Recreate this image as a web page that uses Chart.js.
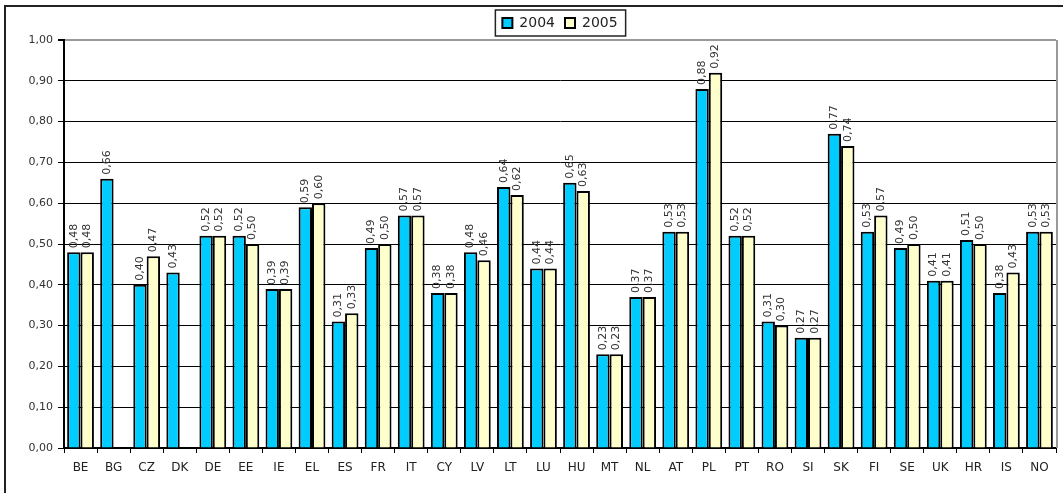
<!DOCTYPE html>
<html>
<head>
<meta charset="utf-8">
<title>2004 / 2005</title>
<script src="https://cdn.jsdelivr.net/npm/chart.js@4.4.1/dist/chart.umd.min.js"></script>
<style>
    html, body { margin: 0; padding: 0; background: #fff; }
    #wrap { width: 1063px; height: 493px; }
</style>
</head>
<body>
<div id="wrap"><canvas id="chart" width="1063" height="493"></canvas></div>
<script>
const countries = ['BE', 'BG', 'CZ', 'DK', 'DE', 'EE', 'IE', 'EL', 'ES', 'FR', 'IT', 'CY', 'LV', 'LT', 'LU', 'HU',
    'MT', 'NL', 'AT', 'PL', 'PT', 'RO', 'SI', 'SK', 'FI', 'SE', 'UK', 'HR', 'IS', 'NO'];
const values2004 = [0.48, 0.66, 0.40, 0.43, 0.52, 0.52, 0.39, 0.59, 0.31, 0.49, 0.57, 0.38, 0.48, 0.64, 0.44, 0.65,
    0.23, 0.37, 0.53, 0.88, 0.52, 0.31, 0.27, 0.77, 0.53, 0.49, 0.41, 0.51, 0.38, 0.53];
const values2005 = [0.48, null, 0.47, null, 0.52, 0.50, 0.39, 0.60, 0.33, 0.50, 0.57, 0.38, 0.46, 0.62, 0.44, 0.63,
    0.23, 0.37, 0.53, 0.92, 0.52, 0.30, 0.27, 0.74, 0.57, 0.50, 0.41, 0.50, 0.43, 0.53];
const seriesNames = ['2004', '2005'];
const seriesColors = ['#00ccff', '#ffffcc'];

const FONT = '"DejaVu Sans", Verdana, Arial, sans-serif';

function fmt(v) {
    return v.toFixed(2).replace('.', ',');
}

// values written rotated above every bar
const barLabels = {
    id: 'barLabels',
    afterDatasetsDraw(chart) {
        const ctx = chart.ctx;
        ctx.save();
        ctx.font = '11px ' + FONT;
        ctx.fillStyle = '#333';
        ctx.textAlign = 'left';
        ctx.textBaseline = 'middle';
        chart.data.datasets.forEach((ds, i) => {
            chart.getDatasetMeta(i).data.forEach((bar, j) => {
                const v = ds.data[j];
                if (v == null) return;
                ctx.save();
                ctx.translate(bar.x, bar.y - 4);
                ctx.rotate(-Math.PI / 2);
                ctx.fillText(fmt(v), 0, 0);
                ctx.restore();
            });
        });
        ctx.restore();
    }
};

// outer frame, plot border on the right, box round the legend
const frames = {
    id: 'frames',
    afterInit(chart) {
        chart.legend.afterFit = function () {
            this.height += 29;
        };
    },
    afterDraw(chart) {
        const ctx = chart.ctx;
        const a = chart.chartArea;
        ctx.save();
        ctx.strokeStyle = '#222';
        ctx.lineWidth = 2;
        ctx.beginPath();
        ctx.moveTo(5, chart.height);
        ctx.lineTo(5, 6);
        ctx.lineTo(chart.width, 6);
        ctx.stroke();

        ctx.strokeStyle = '#999';
        ctx.beginPath();
        ctx.moveTo(a.right + 1, a.top);
        ctx.lineTo(a.right + 1, a.bottom);
        ctx.stroke();

        const boxes = chart.legend.legendHitBoxes;
        if (boxes && boxes.length) {
            const first = boxes[0];
            const last = boxes[boxes.length - 1];
            ctx.strokeStyle = '#222';
            ctx.lineWidth = 1.5;
            ctx.strokeRect(first.left - 7, first.top - 6,
                last.left + last.width + 8 - (first.left - 7), first.height + 12);
        }
        ctx.restore();
    }
};

new Chart(document.getElementById('chart'), {
    type: 'bar',
    data: {
        labels: countries,
        datasets: [values2004, values2005].map((d, i) => ({
            label: seriesNames[i],
            data: d,
            backgroundColor: seriesColors[i],
            borderColor: '#000',
            borderWidth: 2,
            categoryPercentage: 0.81,
            barPercentage: 1
        }))
    },
    options: {
        responsive: false,
        animation: false,
        devicePixelRatio: 1,
        layout: { padding: { left: 0, right: 7, top: 6, bottom: 0 } },
        plugins: {
            legend: {
                position: 'top',
                fullSize: false,
                labels: {
                    boxWidth: 10,
                    boxHeight: 10,
                    padding: 10,
                    color: '#222',
                    font: { family: FONT, size: 14 }
                }
            },
            tooltip: { enabled: false }
        },
        scales: {
            x: {
                ticks: {
                    color: '#222',
                    padding: 8,
                    autoSkip: false,
                    maxRotation: 0,
                    font: { family: FONT, size: 12 }
                },
                grid: { drawOnChartArea: false, drawTicks: true, tickLength: 5, color: '#000' },
                border: { color: '#000', width: 2 },
                afterFit(scale) { scale.height = 45; }
            },
            y: {
                min: 0,
                max: 1,
                ticks: {
                    stepSize: 0.1,
                    color: '#333',
                    padding: 5,
                    font: { family: FONT, size: 11 },
                    callback: v => fmt(v)
                },
                grid: {
                    color: c => (c.tick && c.tick.value > 0.995 ? '#999' : '#000'),
                    lineWidth: c => (c.tick && c.tick.value > 0.995 ? 2 : 1),
                    tickColor: '#000',
                    tickLength: 6
                },
                border: { color: '#000', width: 2 },
                afterFit(scale) { scale.width = 64; }
            }
        }
    },
    plugins: [barLabels, frames]
});
</script>
</body>
</html>
